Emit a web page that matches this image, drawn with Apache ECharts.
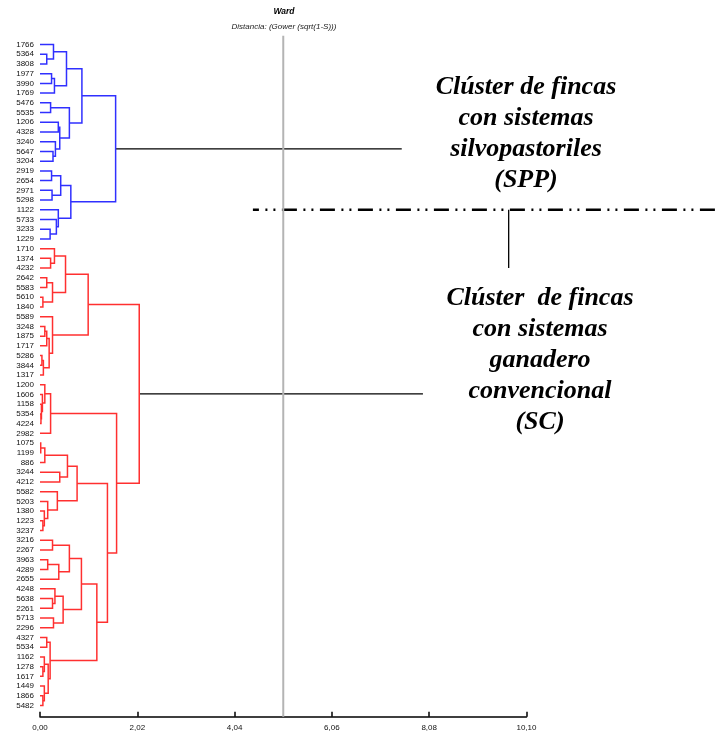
<!DOCTYPE html>
<html>
<head>
<meta charset="utf-8">
<style>html,body{margin:0;padding:0;background:#fff}#c{width:718px;height:736px}</style>
<script src="https://cdn.jsdelivr.net/npm/echarts@6/dist/echarts.min.js"></script>
</head>
<body>
<div id="c"></div>
<script>
// ---- data ----
const blueLeaves = ['1766','5364','3808','1977','3990','1769','5476','5535','1206','4328','3240','5647','3204',
  '2919','2654','2971','5298','1122','5733','3233','1229'];
const redLeaves = ['1710','1374','4232','2642','5583','5610','1840','5589','3248','1875','1717','5286','3844','1317',
  '1200','1606','1158','5354','4224','2982','1075','1199','886','3244','4212','5582','5203','1380','1223','3237',
  '3216','2267','3963','4289','2655','4248','5638','2261','5713','2296','4327','5534','1162','1278','1617','1449','1866','5482'];
// [node, left, right, distance]
const blueMerges = [
  ['a1','5364','3808',0.14],['a2','1766','a1',0.28],['b1','1977','3990',0.24],['b2','b1','1769',0.30],['A','a2','b2',0.55],
  ['c1','5476','5535',0.22],['d1','5647','3204',0.27],['d2','3240','d1',0.32],['d3','1206','4328',0.38],['d4','d3','d2',0.41],
  ['C','c1','d4',0.61],['TOPB','A','C',0.87],
  ['e1','2919','2654',0.24],['e2','2971','5298',0.25],['E','e1','e2',0.43],['f1','3233','1229',0.21],['f2','5733','f1',0.34],
  ['F','1122','f2',0.38],['G','E','F',0.64],['ROOTB','TOPB','G',1.57]
];
const redMerges = [
  ['g1','1374','4232',0.22],['g2','1710','g1',0.30],['h1','2642','5583',0.14],['h2','5610','1840',0.06],['h3','h1','h2',0.26],
  ['H','g2','h3',0.53],['i1','3248','1875',0.10],['i2','i1','1717',0.14],['i3','5286','3844',0.04],['i4','i3','1317',0.07],
  ['i5','i2','i4',0.19],['I','5589','i5',0.26],['J','H','I',1.00],
  ['j1','5354','4224',0.02],['j2','1158','j1',0.03],['j3','1606','j2',0.05],['j4','1200','j3',0.10],['K','j4','2982',0.22],
  ['l1','1075','1199',0.015],['l2','l1','886',0.10],['l3','3244','4212',0.41],['L1','l2','l3',0.57],
  ['m1','1223','3237',0.06],['m2','1380','m1',0.09],['m3','5203','m2',0.16],['M','5582','m3',0.36],['L','L1','M',0.77],
  ['n1','3216','2267',0.26],['n2','3963','4289',0.16],['n3','n2','2655',0.39],['N','n1','n3',0.61],
  ['o1','5638','2261',0.26],['o2','4248','o1',0.31],['o3','5713','2296',0.28],['O','o2','o3',0.48],['P','N','O',0.86],
  ['q1','4327','5534',0.14],['r1','1278','1617',0.06],['r2','1162','r1',0.09],['s1','1866','5482',0.06],['s2','1449','s1',0.09],
  ['r3','r2','s2',0.17],['Q','q1','r3',0.21],['R','P','Q',1.18],['S','L','R',1.40],['T','K','S',1.59],['ROOTR','J','T',2.06]
];
const xTicks = ['0,00','2,02','4,04','6,06','8,08','10,10'];
const cutDistance = 5.05;
const clusterLineEnds = [7.51, 7.95];
const separator = {y: 17.0, xFrom: 4.42, xTo: 14.1, xVert: 9.73, yVertTo: 23.0};
const titleText = 'Ward';
const subtitleText = 'Distancia: (Gower (sqrt(1-S)))';
const labelSPP = 'Clúster de fincas\ncon sistemas\nsilvopastoriles\n(SPP)';
const labelSC = 'Clúster  de fincas\ncon sistemas\nganadero\nconvencional\n(SC)';

// ---- layout ----
const leaves = blueLeaves.concat(redLeaves);
const pos = {};
leaves.forEach((l, i) => { pos[l] = {y: i, h: 0}; });
function buildPaths(merges) {
  const paths = [];
  merges.forEach(([name, a, b, h]) => {
    const A = pos[a], B = pos[b];
    paths.push({coords: [[A.h, A.y], [h, A.y], [h, B.y], [B.h, B.y]]});
    pos[name] = {y: (A.y + B.y) / 2, h: h};
  });
  return paths;
}
const bluePaths = buildPaths(blueMerges);
const redPaths = buildPaths(redMerges);
const rb = pos['ROOTB'], rr = pos['ROOTR'];

const chart = echarts.init(document.getElementById('c'), null, {renderer: 'canvas'});
const option = {
  animation: false,
  backgroundColor: '#fff',
  grid: {left: 40, right: 191.5, top: 34.8, bottom: 19.3, containLabel: false},
  xAxis: {
    type: 'value', position: 'bottom', min: 0, max: 10.1, interval: 2.02,
    axisLine: {show: true, onZero: false, lineStyle: {color: '#000', width: 1.5}},
    axisTick: {show: true, inside: true, length: 5, lineStyle: {color: '#000', width: 1.5}},
    splitLine: {show: false},
    axisLabel: {fontSize: 8, color: '#111', fontFamily: 'Liberation Sans, Arial', margin: 7,
      formatter: (v) => { const i = Math.round(v / 2.02); return Math.abs(v - i * 2.02) < 1e-6 ? (xTicks[i] || '') : ''; }}
  },
  yAxis: {
    type: 'value', inverse: true, min: -1, max: 69.15, interval: 1,
    axisLine: {show: false}, axisTick: {show: false}, splitLine: {show: false},
    axisLabel: {fontSize: 8, color: '#111', fontFamily: 'Liberation Sans, Arial', margin: 6,
      showMinLabel: true, showMaxLabel: true,
      formatter: (v) => { const i = Math.round(v); if (Math.abs(v - i) > 1e-6 || i < 0 || i >= leaves.length) return ''; return leaves[i]; }}
  },
  series: [
    {type: 'lines', coordinateSystem: 'cartesian2d', polyline: true, silent: true, z: 3,
      lineStyle: {color: '#3030ff', width: 1.5, opacity: 1}, data: bluePaths},
    {type: 'lines', coordinateSystem: 'cartesian2d', polyline: true, silent: true, z: 3,
      lineStyle: {color: '#ff3030', width: 1.5, opacity: 1}, data: redPaths},
    {type: 'lines', coordinateSystem: 'cartesian2d', polyline: true, silent: true, z: 2,
      lineStyle: {color: '#000', width: 1.3, opacity: 1},
      data: [{coords: [[rb.h, rb.y], [clusterLineEnds[0], rb.y]]}, {coords: [[rr.h, rr.y], [clusterLineEnds[1], rr.y]]},
             {coords: [[separator.xVert, separator.y], [separator.xVert, separator.yVertTo]]}]},
    {type: 'lines', coordinateSystem: 'cartesian2d', polyline: true, silent: true, clip: false, z: 2,
      lineStyle: {color: '#000', width: 2.5, opacity: 1, type: [15, 6.5, 2, 6, 2, 6.5], dashOffset: 9},
      data: [{coords: [[separator.xFrom, separator.y], [separator.xTo, separator.y]]}]},
    {type: 'lines', coordinateSystem: 'cartesian2d', polyline: true, silent: true, clip: false, z: 4,
      lineStyle: {color: '#b4b4b4', width: 2, opacity: 1},
      data: [{coords: [[cutDistance, -0.9], [cutDistance, 69.15]]}]}
  ],
  graphic: [
    {type: 'text', x: 284, y: 12, silent: true,
      style: {text: titleText, font: 'bold italic 8.5px "Liberation Sans", Arial', fill: '#000', textAlign: 'center', textVerticalAlign: 'middle'}},
    {type: 'text', x: 284, y: 27, silent: true,
      style: {text: subtitleText, font: 'italic 8px "Liberation Sans", Arial', fill: '#222', textAlign: 'center', textVerticalAlign: 'middle'}},
    {type: 'text', x: 526, y: 71.5, silent: true,
      style: {text: labelSPP, font: 'bold italic 26px "Liberation Serif", "Times New Roman", serif', lineHeight: 31, fill: '#000', textAlign: 'center', textVerticalAlign: 'top'}},
    {type: 'text', x: 540, y: 282.5, silent: true,
      style: {text: labelSC, font: 'bold italic 26px "Liberation Serif", "Times New Roman", serif', lineHeight: 31, fill: '#000', textAlign: 'center', textVerticalAlign: 'top'}}
  ]
};
chart.setOption(option);
</script>
</body>
</html>
